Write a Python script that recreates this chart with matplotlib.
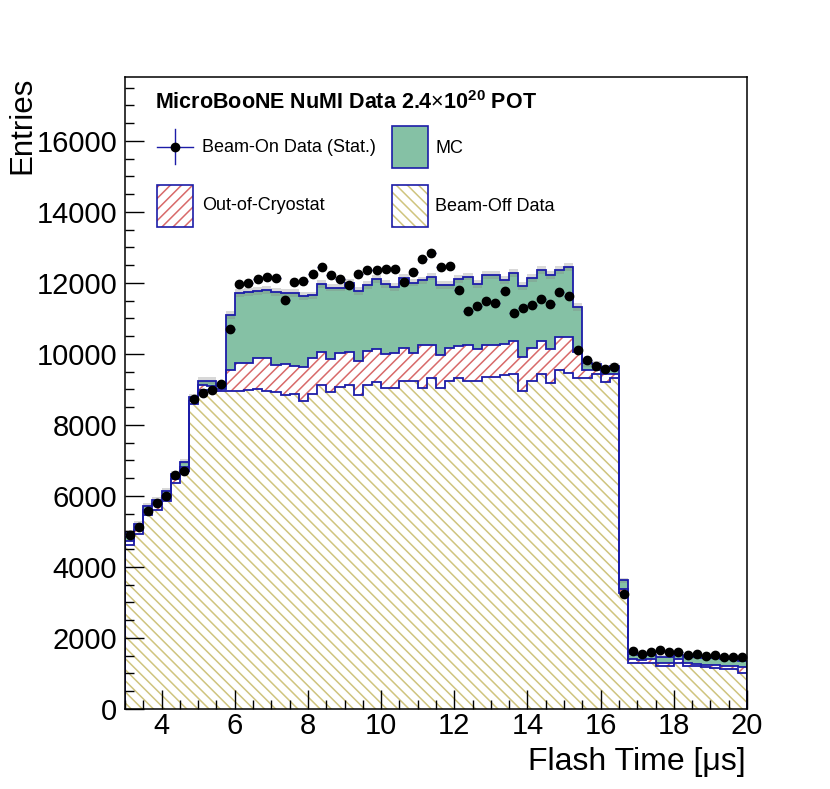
import numpy as np
import matplotlib
matplotlib.use('Agg')
import matplotlib.pyplot as plt
from matplotlib.patches import Rectangle
from matplotlib.ticker import MultipleLocator

# bin edges: 68 bins of 0.25 us between 3 and 20
edges = np.arange(3.0, 20.0001, 0.25)

# stacked components (entries per bin)
beam_off = [4620, 4930, 5470, 5610, 5860, 6370, 6690, 8600, 8980, 8980,
            8950, 8950, 8950, 8980, 9000, 8950, 8920, 8840, 8860, 8670,
            8880, 9120, 8920, 9060, 9120, 8830, 9120, 9200, 9030, 9030,
            9230, 9230, 9030, 9320, 9030, 9230, 9320, 9230, 9230, 9340,
            9340, 9400, 9430, 8950, 9230, 9430, 9180, 9550, 9460, 9320,
            9320, 9430, 9200, 9320, 3280, 1300, 1300, 1300, 1200, 1200,
            1300, 1220, 1200, 1190, 1160, 1130, 1130, 1020]
out_cryo = [110, 110, 140, 150, 140, 110, 130, 80, 140, 130,
            50, 590, 790, 760, 880, 930, 770, 870, 800, 960,
            1000, 930, 940, 960, 930, 970, 960, 940, 960, 990,
            940, 790, 1220, 930, 940, 940, 910, 1020, 910, 910,
            910, 880, 930, 960, 940, 930, 960, 930, 1020, 730,
            220, 110, 230, 110, 90, 110, 90, 110, 100, 100,
            110, 80, 80, 60, 90, 90, 90, 170]
mc_nu = [250, 170, 110, 130, 150, 150, 150, 100, 130, 140,
         100, 1560, 1980, 2010, 1900, 1930, 2060, 2010, 2060, 2010,
         1770, 1930, 2010, 1850, 1960, 1980, 1870, 1960, 1990, 1870,
         1980, 1990, 1820, 1930, 1980, 1780, 1890, 1930, 1840, 1980,
         1980, 1810, 1930, 2010, 1980, 2010, 2090, 1890, 1980, 1280,
         200, 170, 170, 230, 250, 150, 140, 120, 170, 170,
         120, 160, 180, 190, 190, 190, 190, 170]
beam_on = [4900, 5130, 5580, 5800, 6000, 6600, 6710, 8720, 8890, 8990,
           9150, 10700, 11980, 12010, 12120, 12180, 12150, 11530, 12040, 12060,
           12250, 12460, 12210, 12120, 11950, 12260, 12370, 12370, 12400, 12400,
           12030, 12320, 12660, 12830, 12460, 12490, 11810, 11210, 11360, 11500,
           11440, 11780, 11160, 11300, 11390, 11550, 11410, 11750, 11640, 10100,
           9830, 9650, 9580, 9630, 3230, 1640, 1560, 1610, 1670, 1610,
           1610, 1530, 1550, 1500, 1530, 1470, 1470, 1470]

beam_off = np.array(beam_off, dtype=float)
cryo_top = beam_off + np.array(out_cryo)
mc_top = cryo_top + np.array(mc_nu)
beam_on = np.array(beam_on, dtype=float)
centers = 0.5 * (edges[:-1] + edges[1:])

plt.rcParams['font.family'] = ['Liberation Sans', 'DejaVu Sans']
plt.rcParams['mathtext.fontset'] = 'custom'
plt.rcParams['mathtext.rm'] = 'Liberation Sans'
plt.rcParams['mathtext.bf'] = 'Liberation Sans:bold'
plt.rcParams['hatch.linewidth'] = 1.1

line_blue = '#1c1ca8'
green = '#85c1a5'
red_hatch = '#d86a6a'
yellow_hatch = '#cfc47e'
off_hatch = '\\\\\\'   # three backslashes
cryo_hatch = '///'

fig = plt.figure(figsize=(8.3, 7.89), dpi=100)
ax = fig.add_axes([125 / 830, 1 - 709 / 789, 622 / 830, 632 / 789])

# filled stack
ax.stairs(beam_off, edges, baseline=0, fill=True, facecolor='white',
          edgecolor=yellow_hatch, hatch=off_hatch, lw=0)
ax.stairs(cryo_top, edges, baseline=beam_off, fill=True, facecolor='white',
          edgecolor=red_hatch, hatch=cryo_hatch, lw=0)
ax.stairs(mc_top, edges, baseline=cryo_top, fill=True, color=green, lw=0)

# MC stat band
mc_err = np.sqrt(mc_top)
ax.stairs(mc_top + mc_err, edges, baseline=mc_top - mc_err, fill=True,
          color='grey', alpha=0.3, lw=0)

# outlines
for top in (beam_off, cryo_top, mc_top):
    ax.stairs(top, edges, color=line_blue, lw=1.3)

# data
ax.errorbar(centers, beam_on, xerr=0.125, yerr=np.sqrt(beam_on), fmt='o',
            color='black', ms=6, ecolor=line_blue, elinewidth=1, capsize=0, zorder=5)

ax.set_xlim(3, 20)
ax.set_ylim(0, 17800)
ax.xaxis.set_major_locator(MultipleLocator(2))
ax.xaxis.set_minor_locator(MultipleLocator(0.5))
ax.yaxis.set_major_locator(MultipleLocator(2000))
ax.yaxis.set_minor_locator(MultipleLocator(500))
ax.tick_params(which='both', direction='in', top=False, right=False, labelsize=21)
ax.tick_params(which='major', length=13.5, width=1)
ax.tick_params(which='minor', length=6.5, width=1)
ax.tick_params(axis='y', pad=5.5)
ax.tick_params(axis='x', pad=2.5)
for s in ax.spines.values():
    s.set_linewidth(1.1)

fig.text(7 / 830, 1 - 77 / 789, 'Entries', rotation=90, ha='left', va='top', fontsize=22.5)
fig.text(746 / 830, 1 - 762 / 789, 'Flash Time [\u03bcs]', ha='right', va='center', fontsize=23)


# legend, positions in pixels of the original
def axp(px, py):
    return (px - 125) / 622, (709 - py) / 632


tx, ty = axp(155, 103)
ax.text(tx, ty, r'MicroBooNE NuMI Data 2.4$\times$10$^{\mathbf{20}}$ POT', transform=ax.transAxes,
        fontsize=15.5, fontweight='bold', ha='left', va='center')

# beam-on entry
x0, y0 = axp(157, 147)
x1, _ = axp(193, 147)
_, yb = axp(175, 164)
_, yt = axp(175, 129)
ax.plot([x0, x1], [y0, y0], color=line_blue, lw=1, transform=ax.transAxes, clip_on=False)
ax.plot([(x0 + x1) / 2] * 2, [yb, yt], color=line_blue, lw=1, transform=ax.transAxes, clip_on=False)
ax.plot([(x0 + x1) / 2], [y0], 'o', color='black', ms=6, transform=ax.transAxes, clip_on=False)
ax.text(*axp(202, 148), 'Beam-On Data (Stat.)', transform=ax.transAxes, fontsize=13, va='center')


def legend_box(px, py, face, hatch_col=None, hatch=None):
    bx, by = axp(px, py + 42)
    w = 36 / 622
    h = 42 / 632
    if hatch:
        ax.add_patch(Rectangle((bx, by), w, h, transform=ax.transAxes, facecolor='white',
                               edgecolor=hatch_col, hatch=hatch, lw=0))
    else:
        ax.add_patch(Rectangle((bx, by), w, h, transform=ax.transAxes, facecolor=face, lw=0))
    ax.add_patch(Rectangle((bx, by), w, h, transform=ax.transAxes, fill=False,
                           edgecolor=line_blue, lw=1.2))


legend_box(392, 126, green)
ax.text(*axp(435, 149), 'MC', transform=ax.transAxes, fontsize=13, va='center')
legend_box(157, 185, None, red_hatch, cryo_hatch)
ax.text(*axp(202, 206), 'Out-of-Cryostat', transform=ax.transAxes, fontsize=13, va='center')
legend_box(392, 185, None, yellow_hatch, off_hatch)
ax.text(*axp(435, 207), 'Beam-Off Data', transform=ax.transAxes, fontsize=13, va='center')

fig.savefig('out.png', dpi=100)
